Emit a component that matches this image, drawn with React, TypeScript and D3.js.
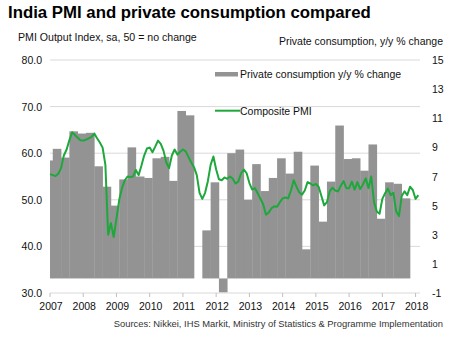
import React from "react";
import * as d3 from "d3";

// Private consumption, y/y % change, quarterly from Q4 2006 (Oct-Dec 2006) to Q3 2017
const consumption: number[] = [
  8.1, 8.9, 8.3, 10.1, 9.95, 10.0, 7.7, 6.3, 5.0, 6.8, 9.0, 7.0, 6.9, 8.25, 8.35,
  6.7, 11.5, 11.2, 0.0, 3.3, 6.6, -0.95, 8.6, 8.85, 5.4, 7.85, 6.0, 6.9, 8.25, 7.2,
  8.7, 2.0, 7.75, 3.9, 6.65, 10.5, 8.2, 8.25, 7.4, 9.2, 4.1, 6.6, 6.5, 5.5,
];

// Composite PMI, monthly from Jan 2007 to Feb 2018
const pmi: number[] = [
  55.5, 55.3, 55.1, 55.6, 56.8, 59.5, 60.8, 62.8, 64.5, 63.9, 63.3, 62.8,
  62.7, 62.9, 63.2, 63.5, 64.2, 63.2, 62.3, 61.2, 57.5, 42.5, 45.0, 42.0,
  46.0, 50.0, 52.5, 54.2, 55.0, 54.9, 55.0, 56.4, 55.3, 57.3, 59.5, 61.0,
  61.2, 60.2, 61.4, 62.7, 62.0, 60.5, 58.0, 56.8, 59.5, 60.8, 59.7, 60.3,
  60.8, 60.4, 59.2, 58.0, 57.0, 55.3, 51.5, 50.2, 51.5, 54.0, 57.5, 59.3,
  56.5, 54.4, 54.2, 54.8, 54.5, 55.0, 54.5, 53.5, 53.9, 55.7, 56.5, 55.7,
  53.6, 52.2, 52.5, 51.4, 50.2, 49.0, 46.8, 47.3, 48.2, 48.6, 48.5, 49.5,
  50.3, 50.5, 50.3, 52.0, 54.2, 52.8, 51.6, 51.1, 52.0, 53.8, 53.5, 53.1,
  53.4, 52.8, 50.8, 48.8, 49.5, 51.8, 52.6, 52.0, 51.8, 53.0, 54.0, 52.5,
  52.5, 53.9, 52.2, 53.8, 52.3, 53.3, 54.6, 52.5, 55.0, 49.5, 47.5, 47.0,
  50.2, 51.4, 52.4, 51.0, 51.5, 47.5, 46.5, 50.8, 51.8, 51.0, 52.8, 52.1,
  50.2, 51.0,
];

const years: string[] = ["2007", "2008", "2009", "2010", "2011", "2012", "2013", "2014", "2015", "2016", "2017", "2018"];
const leftTicks: number[] = [30, 40, 50, 60, 70, 80];
const rightTicks: number[] = [-1, 1, 3, 5, 7, 9, 11, 13, 15];

const FONT = "'Liberation Sans', Arial, sans-serif";
const GREEN = "#1ea83c";
const GRAY = "#939393";

export default function App() {
  const W = 456, H = 355;
  const left = 50, right = 420, top = 60, bottom = 293;
  const x = d3.scaleLinear().domain([0, 133.6]).range([left, right]);
  const yL = d3.scaleLinear().domain([30, 80]).range([bottom, top]);
  const yR = d3.scaleLinear().domain([-1, 15]).range([bottom, top]);

  const line = d3
    .line<number>()
    .x((_, i) => x(i))
    .y((d) => yL(d));

  return (
    <svg
      width={W}
      height={H}
      style={{ position: "absolute", left: 0, top: 0, background: "#fff" }}
      fontFamily={FONT}
    >
      <defs>
        <clipPath id="plotClip">
          <rect x={left} y={0} width={right - left} height={H} />
        </clipPath>
      </defs>
      <text x={8} y={18} fontSize={16.8} fontWeight="bold" fill="#000">
        India PMI and private consumption compared
      </text>
      <text x={18} y={41} fontSize={10.6} fill="#111">
        PMI Output Index, sa, 50 = no change
      </text>
      <text x={443} y={45} fontSize={10.5} fill="#111" textAnchor="end">
        Private consumption, y/y % change
      </text>

      {leftTicks.map((t) => (
        <g key={"l" + t}>
          <line x1={left} x2={right} y1={yL(t)} y2={yL(t)} stroke="#d9d9d9" strokeWidth={1} />
          <text x={42} y={yL(t) + 4} fontSize={10.5} textAnchor="end" fill="#111">
            {t.toFixed(1)}
          </text>
        </g>
      ))}
      {rightTicks.map((t) => (
        <text key={"r" + t} x={432} y={yR(t) + 4} fontSize={10.5} fill="#111">
          {t}
        </text>
      ))}

      <g clipPath="url(#plotClip)">
        {consumption.map((v, k) => {
          const x0 = x(3 * k - 2);
          const x1 = x(3 * k + 1);
          const y0 = yR(Math.max(0, v));
          const y1 = yR(Math.min(0, v));
          return (
            <rect key={k} x={x0} y={y0} width={x1 - x0 + 0.3} height={Math.max(0, y1 - y0)} fill={GRAY} />
          );
        })}
      </g>

      {years.map((yr, i) => {
        const xv = x(i * 12);
        return (
          <g key={yr}>
            <line x1={xv} x2={xv} y1={bottom} y2={bottom + 4} stroke="#bfbfbf" />
            <text x={xv + 1} y={310} fontSize={10.5} textAnchor="middle" fill="#111">
              {yr}
            </text>
          </g>
        );
      })}

      <path d={line(pmi) || ""} fill="none" stroke={GREEN} strokeWidth={2} strokeLinejoin="round" />

      <rect x={215} y={72} width={23} height={4.5} fill={GRAY} />
      <text x={240} y={78} fontSize={10.5} fill="#111">
        Private consumption y/y % change
      </text>
      <line x1={215} x2={240} y1={110.7} y2={110.7} stroke={GREEN} strokeWidth={2} />
      <text x={240} y={114.5} fontSize={10.5} fill="#111">
        Composite PMI
      </text>

      <text x={443} y={327} fontSize={9.4} textAnchor="end" fill="#333">
        Sources: Nikkei, IHS Markit, Ministry of Statistics &amp; Programme Implementation
      </text>
    </svg>
  );
}
